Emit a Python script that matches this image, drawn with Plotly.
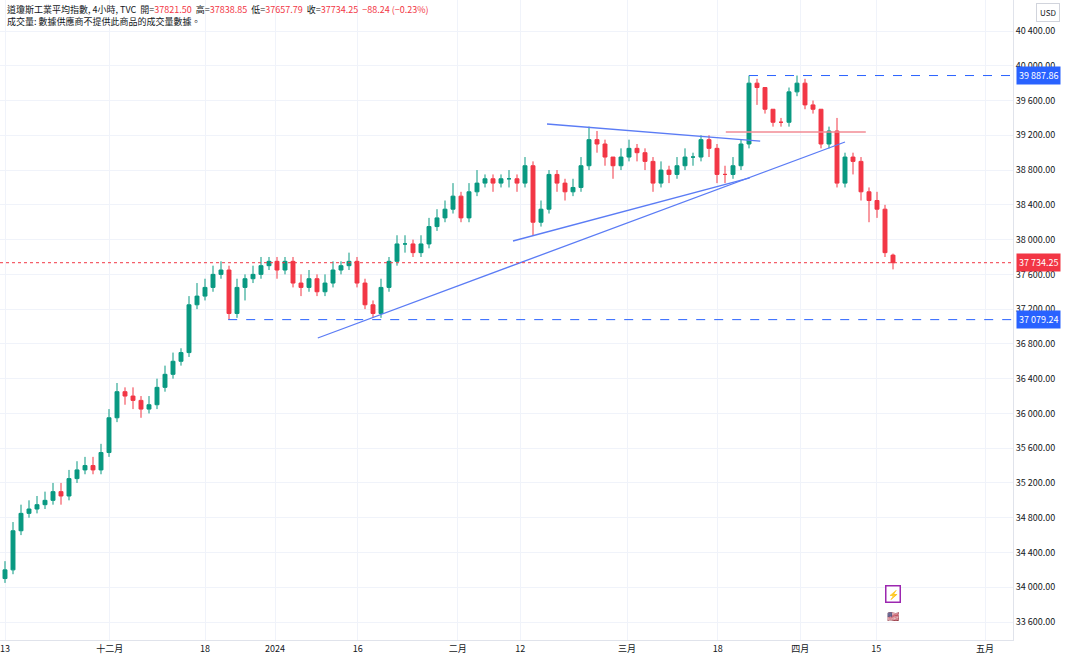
import plotly.graph_objects as go

# one candle per ~8px in the reference
closes = [34200, 34650, 34850, 34900, 34950, 35000, 35100, 35050, 35250, 35350,
          35400, 35350, 35550, 35950, 36250, 36200, 36150, 36050, 36100, 36300,
          36450, 36600, 36700, 37250, 37350, 37450, 37600, 37650, 37150, 37450,
          37550, 37600, 37700, 37750, 37650, 37750, 37500, 37450, 37550, 37400,
          37500, 37650, 37700, 37750, 37500, 37250, 37150, 37450, 37750, 37950,
          37950, 37850, 37950, 38150, 38250, 38350, 38500, 38250, 38550, 38650,
          38700, 38650, 38700, 38700, 38650, 38850, 38200, 38350, 38750, 38650,
          38550, 38600, 38850, 39150, 39100, 38950, 38850, 38950, 39050, 39000,
          38900, 38650, 38800, 38750, 38850, 38950, 38950, 39150, 39050, 38750,
          38750, 38850, 39100, 39800, 39750, 39500, 39350, 39350, 39700, 39800,
          39550, 39500, 39100, 39250, 38650, 38950, 38900, 38550, 38450, 38350,
          37850, 37734.25]
opens = [34100] + closes[:-1]
opens[-1] = 37821.50
highs = [34300, 34750, 34950, 35000, 35050, 35100, 35200, 35200, 35350, 35450,
         35500, 35500, 35650, 36050, 36350, 36300, 36300, 36200, 36200, 36400,
         36550, 36700, 36750, 37350, 37500, 37550, 37700, 37750, 37700, 37550,
         37600, 37700, 37800, 37800, 37800, 37800, 37800, 37600, 37650, 37600,
         37600, 37750, 37750, 37850, 37800, 37550, 37300, 37550, 37800, 38050,
         38050, 38000, 38050, 38250, 38350, 38450, 38650, 38550, 38650, 38800,
         38750, 38750, 38750, 38800, 38750, 38950, 38900, 38450, 38800, 38800,
         38700, 38700, 38950, 39300, 39250, 39150, 38950, 39050, 39150, 39100,
         39050, 38950, 38900, 38850, 38950, 39050, 39000, 39200, 39200, 39100,
         38850, 38950, 39150, 39887.86, 39850, 39750, 39500, 39400, 39750, 39887.86,
         39850, 39600, 39500, 39300, 39400, 39000, 39000, 38950, 38600, 38550,
         38400, 37838.85]
lows = [34050, 34150, 34600, 34800, 34850, 34900, 34950, 34950, 35000, 35200,
        35300, 35300, 35300, 35500, 35900, 36100, 36050, 35950, 36000, 36050,
        36250, 36400, 36550, 36650, 37200, 37300, 37400, 37550, 37079.24, 37100,
        37300, 37500, 37550, 37650, 37550, 37600, 37450, 37350, 37400, 37350,
        37350, 37450, 37600, 37650, 37450, 37200, 37100, 37100, 37400, 37700,
        37850, 37800, 37800, 37900, 38100, 38200, 38300, 38200, 38200, 38500,
        38600, 38550, 38600, 38600, 38550, 38600, 38050, 38150, 38300, 38550,
        38450, 38500, 38550, 38800, 39000, 38850, 38700, 38800, 38900, 38900,
        38800, 38550, 38600, 38650, 38700, 38800, 38850, 38900, 38950, 38650,
        38650, 38700, 38800, 39050, 39550, 39450, 39300, 39300, 39300, 39650,
        39500, 39450, 39050, 39050, 38600, 38600, 38750, 38450, 38200, 38250,
        37800, 37657.79]
bars = list(range(len(closes)))

tick_pos = [0, 13.1, 25, 33.75, 44.1, 56.6, 64.4, 77.75, 89.1, 99.4, 108.9, 122.5]
tick_text = ["13", "十二月", "18", "2024", "16", "二月", "12", "三月", "18", "四月", "15", "五月"]
price_ticks = list(range(33600, 40401, 400))

# drawn trend lines: (x0, y0, x1, y1) in bar/price units
blue_lines = [(39.1, 36868, 105, 39123), (63.5, 37984, 93.1, 38709), (67.75, 39330, 94.4, 39134)]
red_line = (90.1, 39238, 107.6, 39238)
high_level = 39887.86
low_level = 37079.24
last_price = 37734.25

green = "#089981"
red = "#f23645"
blue = "#2962ff"

fig = go.Figure(go.Candlestick(
    x=bars, open=opens, high=highs, low=lows, close=closes,
    increasing=dict(line=dict(color=green, width=1), fillcolor=green),
    decreasing=dict(line=dict(color=red, width=1), fillcolor=red),
    whiskerwidth=0, showlegend=False, hoverinfo="skip"))

for x0, y0, x1, y1 in blue_lines:
    fig.add_shape(type="line", x0=x0, y0=y0, x1=x1, y1=y1,
                  line=dict(color="#5b7cf5", width=1.3))
fig.add_shape(type="line", x0=red_line[0], y0=red_line[1], x1=red_line[2], y1=red_line[3],
              line=dict(color="#f28b95", width=1.5))
fig.add_shape(type="line", x0=93, x1=126, y0=high_level, y1=high_level,
              line=dict(color=blue, width=1, dash="dash"))
fig.add_shape(type="line", x0=27.9, x1=126, y0=low_level, y1=low_level,
              line=dict(color=blue, width=1, dash="dash"))
fig.add_shape(type="line", xref="paper", x0=0, x1=1, y0=last_price, y1=last_price,
              line=dict(color=red, width=1, dash="dot"))


def fmt(v):
    return f"{v:,.2f}".replace(",", " ")


for v, col in [(high_level, blue), (low_level, blue), (last_price, red)]:
    fig.add_annotation(xref="paper", x=1.003, y=v, xanchor="left", text=fmt(v),
                       showarrow=False, bgcolor=col, font=dict(color="white", size=9),
                       borderpad=2)

fig.add_annotation(
    xref="paper", yref="paper", x=0.005, y=0.998, xanchor="left", yanchor="top",
    align="left", showarrow=False, font=dict(size=9, color="#131722"),
    text=("道瓊斯工業平均指數, 4小時, TVC  開=<span style='color:#f23645'>37821.50</span>"
          "  高=<span style='color:#f23645'>37838.85</span>"
          "  低=<span style='color:#f23645'>37657.79</span>"
          "  收=<span style='color:#f23645'>37734.25  −88.24 (−0.23%)</span>"
          "<br>成交量: 數據供應商不提供此商品的成交量數據。"))
fig.add_annotation(xref="paper", yref="paper", x=1.023, y=0.995, xanchor="left",
                   yanchor="top", text="USD", showarrow=False,
                   font=dict(size=8, color="#131722"),
                   bordercolor="#d1d4dc", borderwidth=1, borderpad=3, bgcolor="white")
fig.add_annotation(x=111, y=33920, text="⚡", showarrow=False,
                   font=dict(size=9, color="#9c27b0"),
                   bordercolor="#9c27b0", borderwidth=1.5, borderpad=1, bgcolor="white")
fig.add_annotation(x=111, y=33680, text="🇺🇸", showarrow=False, font=dict(size=10))

fig.update_layout(
    width=1066, height=665, margin=dict(l=0, r=53, t=0, b=25),
    plot_bgcolor="white", paper_bgcolor="white",
    font=dict(family="Noto Sans CJK TC, Roboto", color="#131722"),
    xaxis=dict(range=[-0.625, 126], tickvals=tick_pos, ticktext=tick_text,
               showgrid=True, gridcolor="#f0f3fa", zeroline=False, automargin=False,
               rangeslider=dict(visible=False), tickfont=dict(size=9),
               showline=True, linecolor="#e0e3eb"),
    yaxis=dict(range=[33393, 40757], side="right", tickvals=price_ticks,
               ticktext=[fmt(v) for v in price_ticks], showgrid=True, automargin=False,
               gridcolor="#f0f3fa", zeroline=False, tickfont=dict(size=9),
               showline=True, linecolor="#e0e3eb"),
)

fig.write_html("out.html", config={"displayModeBar": False},
               post_script="document.body.style.margin='0';")
